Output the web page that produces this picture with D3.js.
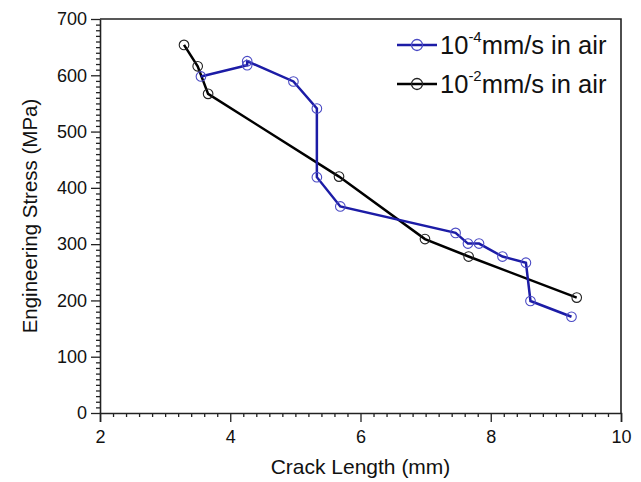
<!DOCTYPE html>
<html>
<head>
<meta charset="utf-8">
<script src="https://cdn.jsdelivr.net/npm/d3@7"></script>
<style>
  body { margin: 0; background: #fff; }
  svg { font-family: "Liberation Sans", Arial, sans-serif; }
</style>
</head>
<body>
<div id="chart"></div>
<script>
// crack length (mm) / engineering stress (MPa)
const slowX = [3.55, 4.26, 4.26, 4.97, 5.33, 5.33, 5.69, 7.46, 7.65, 7.82, 8.18, 8.54, 8.61, 9.24];
const slowY = [598, 618, 625, 589, 541, 419, 367, 320, 301, 301, 278, 267, 199, 171];
const fastX = [3.29, 3.50, 3.66, 5.67, 6.99, 7.66, 9.32];
const fastY = [654, 616, 567, 420, 309, 278, 205];
const seriesNames = ["-4", "-2"];
const xTicks = [2, 4, 6, 8, 10];
const yTicks = [0, 100, 200, 300, 400, 500, 600, 700];

const width = 641, height = 482;
const margin = { top: 19, right: 20, bottom: 69, left: 100 };

const svg = d3.select("#chart").append("svg")
    .attr("width", width)
    .attr("height", height);

const x = d3.scaleLinear().domain([2, 10]).range([margin.left, width - margin.right]);
const y = d3.scaleLinear().domain([0, 700]).range([height - margin.bottom, margin.top]);

// minor ticks
const xMinor = d3.range(2, 10.001, 0.2).filter(v => Math.abs(v / 2 - Math.round(v / 2)) > 0.01);
const yMinor = d3.range(0, 701, 10).filter(v => v % 100 !== 0);

svg.append("g")
    .attr("transform", `translate(0,${y(0)})`)
    .call(d3.axisBottom(x).tickValues(xMinor).tickSize(4).tickFormat(""))
    .call(g => g.select(".domain").remove());
svg.append("g")
    .attr("transform", `translate(${x(2)},0)`)
    .call(d3.axisLeft(y).tickValues(yMinor).tickSize(4).tickFormat(""))
    .call(g => g.select(".domain").remove());

const xAxis = svg.append("g")
    .attr("transform", `translate(0,${y(0)})`)
    .call(d3.axisBottom(x).tickValues(xTicks).tickSize(9).tickPadding(8).tickFormat(d3.format("d")));
const yAxis = svg.append("g")
    .attr("transform", `translate(${x(2)},0)`)
    .call(d3.axisLeft(y).tickValues(yTicks).tickSize(9).tickPadding(4).tickSizeOuter(0));

svg.selectAll(".tick line").attr("stroke", "#222").attr("stroke-width", 1.3);
svg.selectAll(".domain").attr("stroke", "#222").attr("stroke-width", 1.6);
xAxis.selectAll("text").attr("font-size", 18).attr("fill", "#111").attr("font-family", "Liberation Sans, Arial, sans-serif");
yAxis.selectAll("text").attr("font-size", 18).attr("fill", "#111").attr("font-family", "Liberation Sans, Arial, sans-serif");

// frame (top & right)
svg.append("path")
    .attr("d", `M${x(2)},${y(700)}H${x(10)}V${y(0)}`)
    .attr("fill", "none")
    .attr("stroke", "#222")
    .attr("stroke-width", 1.6);

// axis titles
svg.append("text")
    .attr("x", (x(2) + x(10)) / 2)
    .attr("y", 474)
    .attr("text-anchor", "middle")
    .attr("font-size", 21)
    .attr("fill", "#111")
    .text("Crack Length (mm)");
svg.append("text")
    .attr("transform", `translate(37,${(y(0) + y(700)) / 2}) rotate(-90)`)
    .attr("text-anchor", "middle")
    .attr("font-size", 20.5)
    .attr("fill", "#111")
    .text("Engineering Stress (MPa)");

const line = d3.line().x(d => x(d[0])).y(d => y(d[1]));

const series = [
    { pts: d3.zip(slowX, slowY), color: "#1c1ca6", mark: "#4a4ac4", exp: seriesNames[0] },
    { pts: d3.zip(fastX, fastY), color: "#000", mark: "#222", exp: seriesNames[1] }
];

// draw black series first, blue on top
[series[1], series[0]].forEach(s => {
    svg.append("path")
        .datum(s.pts)
        .attr("fill", "none")
        .attr("stroke", s.color)
        .attr("stroke-width", 2.5)
        .attr("d", line);
    svg.append("g").selectAll("circle")
        .data(s.pts)
        .join("circle")
        .attr("cx", d => x(d[0]))
        .attr("cy", d => y(d[1]))
        .attr("r", 4.8)
        .attr("fill", "none")
        .attr("stroke", s.mark)
        .attr("stroke-width", 1.1);
});

// legend
const legend = svg.append("g").attr("transform", "translate(397,0)");
series.forEach((s, i) => {
    const cy = 45 + i * 39;
    legend.append("line")
        .attr("x1", 0).attr("x2", 40)
        .attr("y1", cy).attr("y2", cy)
        .attr("stroke", s.color)
        .attr("stroke-width", 2.5);
    legend.append("circle")
        .attr("cx", 20).attr("cy", cy).attr("r", 5.5)
        .attr("fill", "none")
        .attr("stroke", s.mark)
        .attr("stroke-width", 1.3);
    const t = legend.append("text")
        .attr("x", 43)
        .attr("y", cy + 9)
        .attr("font-size", 25.5)
        .attr("fill", "#111");
    t.append("tspan").text("10");
    t.append("tspan").attr("font-size", 15).attr("dy", -12).text(s.exp);
    t.append("tspan").attr("dy", 12).text("mm/s in air");
});
</script>
</body>
</html>
